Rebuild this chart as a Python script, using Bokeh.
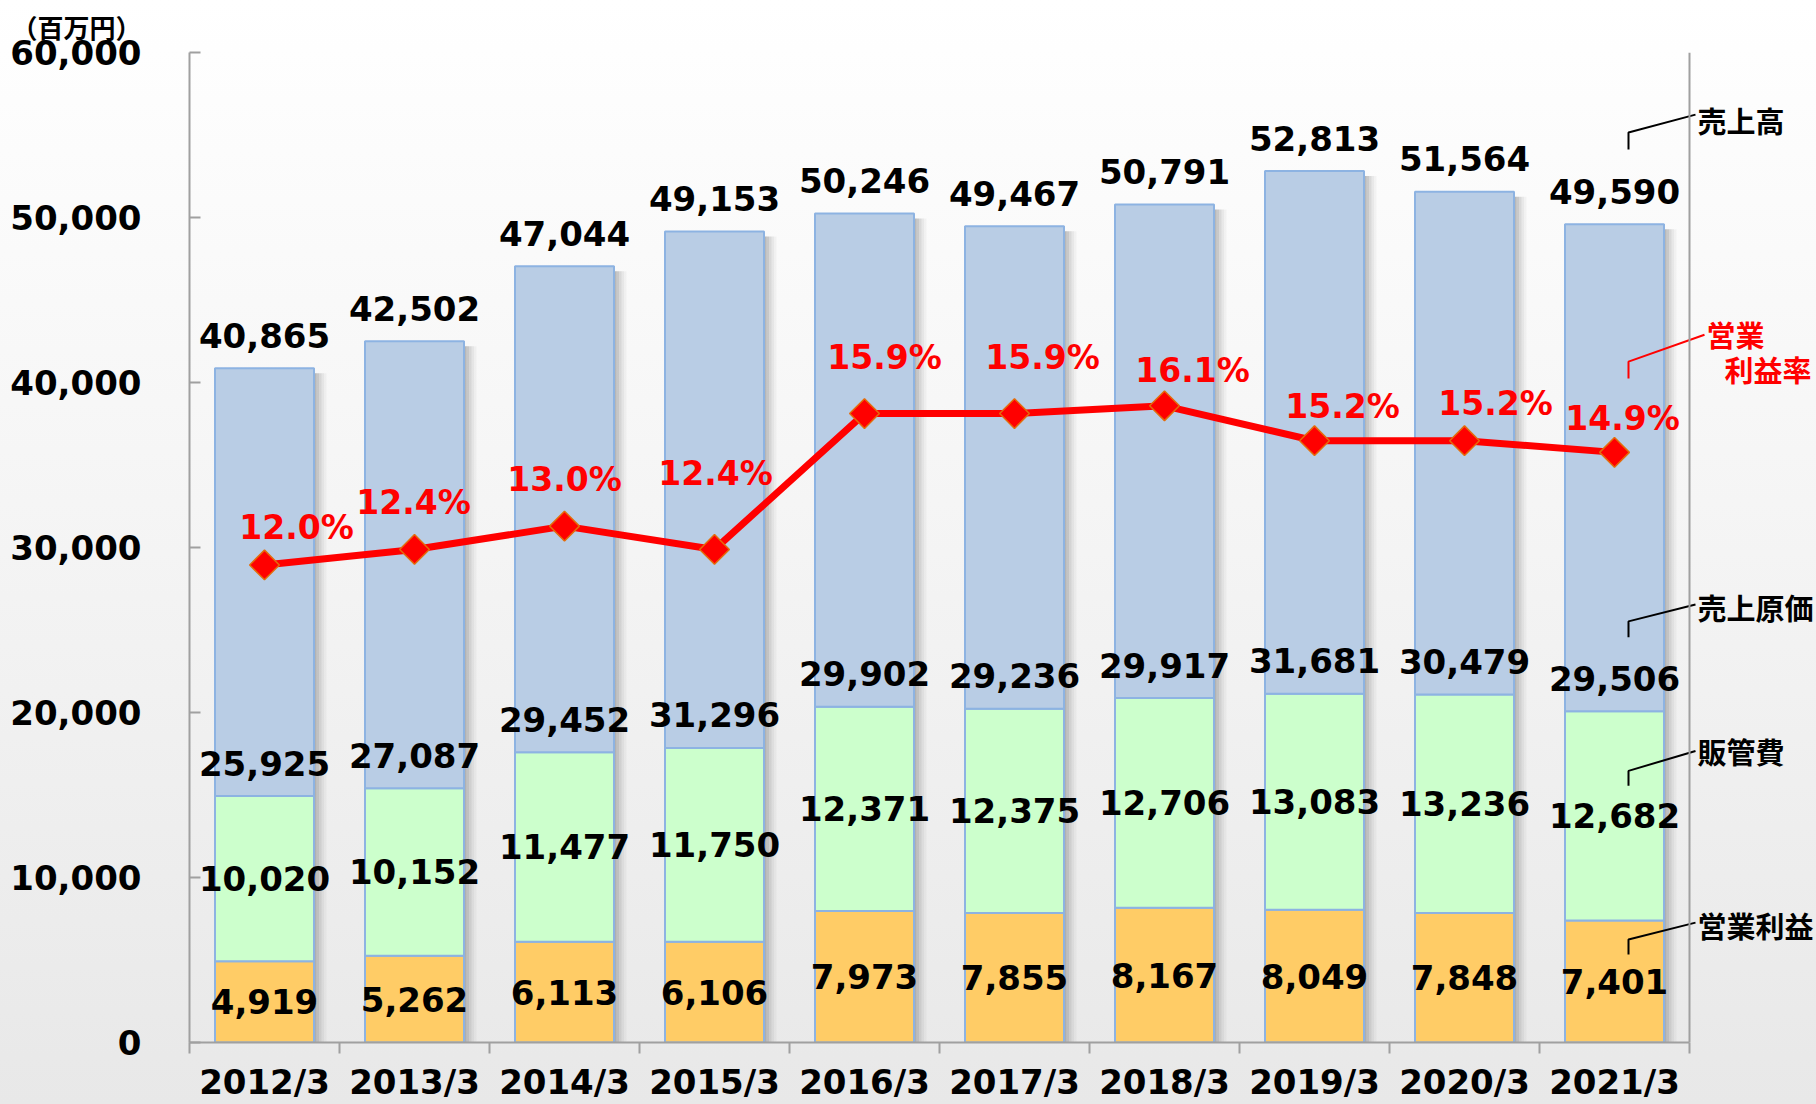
from math import pi
from bokeh.plotting import figure
from bokeh.models import ColumnDataSource, Range1d, FixedTicker, Span, NumeralTickFormatter
from bokeh.core.properties import value
from bokeh.embed import file_html
from bokeh.resources import INLINE

# ---------------- data ----------------
years = ["2012/3", "2013/3", "2014/3", "2015/3", "2016/3",
         "2017/3", "2018/3", "2019/3", "2020/3", "2021/3"]
sales = [40865, 42502, 47044, 49153, 50246, 49467, 50791, 52813, 51564, 49590]      # 売上高
cost = [25925, 27087, 29452, 31296, 29902, 29236, 29917, 31681, 30479, 29506]       # 売上原価
sga = [10020, 10152, 11477, 11750, 12371, 12375, 12706, 13083, 13236, 12682]        # 販管費
profit = [4919, 5262, 6113, 6106, 7973, 7855, 8167, 8049, 7848, 7401]               # 営業利益
margin = [12.0, 12.4, 13.0, 12.4, 15.9, 15.9, 16.1, 15.2, 15.2, 14.9]              # 営業利益率 (%)
y_ticks = [0, 10000, 20000, 30000, 40000, 50000, 60000]

# ---------------- styles ----------------
NUM = "DejaVu Sans"
CJK = "Noto Sans CJK JP"
NUM_FONT = value(NUM)
CJK_FONT = value(CJK)
C_COST, C_SGA, C_PROFIT = "#b9cde5", "#ccffcc", "#ffcc66"
C_EDGE = "#8db3e2"
AX = "#a0a0a0"
BAR_W = 0.66

n = len(years)
xc = [i + 0.5 for i in range(n)]
sga_top = [p_ + s for p_, s in zip(profit, sga)]
cost_top = [b + c for b, c in zip(sga_top, cost)]

W, H = 1816, 1104
FRAME_L, FRAME_T, FRAME_B = 189, 52, 59
x_end = (W - FRAME_L) / 150.0

p = figure(width=W, height=H, output_backend="svg", toolbar_location=None,
           x_range=Range1d(0, x_end), y_range=Range1d(0, 60000),
           min_border_left=FRAME_L, min_border_right=0,
           min_border_top=FRAME_T, min_border_bottom=FRAME_B)
p.extra_y_ranges = {"m": Range1d(-0.3, 25.2)}
p.background_fill_color = None
p.border_fill_color = None
p.outline_line_color = None
p.styles = {"background": "linear-gradient(to bottom, #ffffff 0%, #f4f4f4 50%, #e8e8e8 100%)"}
p.xgrid.visible = False
p.ygrid.visible = False

# unit caption
p.title.text = "（百万円）"
p.title.align = "left"
p.title.vertical_align = "top"
p.title.offset = -178
p.title.text_font = CJK
p.title.text_font_style = "bold"
p.title.text_font_size = "26px"
p.title.text_color = "black"
p.title.standoff = 11

# px -> data helpers
frame_h = H - FRAME_T - FRAME_B
U = 60000.0 / frame_h
M_LO, M_HI = -0.3, 25.2
UM = (M_HI - M_LO) / frame_h

# y axis
ya = p.yaxis[0]
ya.ticker = FixedTicker(ticks=y_ticks)
ya.formatter = NumeralTickFormatter(format="0,0")
ya.major_label_text_font = NUM
ya.major_label_text_font_style = "bold"
ya.major_label_text_font_size = "34px"
ya.major_label_text_color = "black"
ya.axis_line_color = AX
ya.axis_line_width = 2
ya.major_tick_line_color = AX
ya.major_tick_line_width = 2
ya.major_tick_in = 11
ya.major_tick_out = 0
ya.minor_tick_line_color = None
ya.major_label_standoff = 48

# x axis (category labels at centres, ticks at boundaries)
xa = p.xaxis[0]
xa.ticker = FixedTicker(ticks=xc, minor_ticks=list(range(n + 1)))
xa.major_label_overrides = {x: y for x, y in zip(xc, years)}
xa.major_label_text_font = NUM
xa.major_label_text_font_style = "bold"
xa.major_label_text_font_size = "34px"
xa.major_label_text_color = "black"
xa.axis_line_color = AX
xa.axis_line_width = 2
xa.major_tick_line_color = None
xa.major_tick_in = 0
xa.major_tick_out = 0
xa.minor_tick_line_color = AX
xa.minor_tick_line_width = 2
xa.minor_tick_in = 0
xa.minor_tick_out = 11
xa.major_label_standoff = 8
xa.bounds = (0, n)

# right boundary line
p.add_layout(Span(location=n, dimension="height", line_color=AX, line_width=2))

# bar shadows (soft gray gradient on the right side)
for k, a in enumerate([0.40, 0.30, 0.20, 0.11, 0.05]):
    left = [x + BAR_W / 2 + k * 2.5 / 150.0 for x in xc]
    right = [x + BAR_W / 2 + (k + 1) * 2.5 / 150.0 for x in xc]
    top = [t - 5 * U for t in cost_top]
    p.quad(left=left, right=right, bottom=[0] * n, top=top,
           fill_color="#555555", fill_alpha=a, line_color=None)

# stacked bars
p.vbar(x=xc, bottom=[0] * n, top=profit, width=BAR_W,
       fill_color=C_PROFIT, line_color=C_EDGE, line_width=2)
p.vbar(x=xc, bottom=profit, top=sga_top, width=BAR_W,
       fill_color=C_SGA, line_color=C_EDGE, line_width=2)
p.vbar(x=xc, bottom=sga_top, top=cost_top, width=BAR_W,
       fill_color=C_COST, line_color=C_EDGE, line_width=2)

# margin line + markers
p.line(x=xc, y=margin, y_range_name="m", line_color="#ff0000", line_width=7)
p.scatter(x=xc, y=margin, y_range_name="m", marker="square", angle=pi / 4, size=21,
          fill_color="#ff0000", line_color="#e46c0a", line_width=1.5)

# data labels
def num_labels(ys, vals, dy):
    p.text(x=xc, y=ys, text=[f"{v:,}" for v in vals], y_offset=dy,
           text_align="center", text_baseline="middle",
           text_font=NUM_FONT, text_font_style="bold", text_font_size="34px",
           text_color="black")

num_labels(sales, sales, -33)
num_labels(sga_top, cost, -33)
num_labels([(a + b) / 2 for a, b in zip(profit, sga_top)], sga, 0)
num_labels([v / 2 for v in profit], profit, 0)

m_dx = [32, -1, 0, 1, 20, 28, 28, 28, 31, 8]
m_dy = [-37, -47, -47, -76, -56, -56, -35, -34, -37, -34]
msrc = ColumnDataSource(dict(x=xc, y=margin, t=[f"{v:.1f}%" for v in margin], dx=m_dx, dy=m_dy))
p.text(x="x", y="y", text="t", x_offset="dx", y_offset="dy", source=msrc, y_range_name="m",
       text_align="center", text_baseline="middle",
       text_font=NUM_FONT, text_font_style="bold", text_font_size="33px",
       text_color="#ff0000")

# series-name callouts for the last category
xl = xc[-1]
x_v = xl + 14 / 150.0
x_e = xl + 81 / 150.0
x_t = xl + 83 / 150.0
callouts = [
    # name, label centre (data), offsets px (bottom, top, end, text)
    ("売上高", sales[-1] + 33 * U, (42, 59, 77, 72)),
    ("売上原価", sga_top[-1] + 33 * U, (41, 57, 74, 71)),
    ("販管費", (profit[-1] + sga_top[-1]) / 2, (30, 45, 65, 65)),
    ("営業利益", profit[-1] / 2, (27, 42, 59, 57)),
]
for name, base, (b, t, e, tx) in callouts:
    p.line(x=[x_v, x_v, x_e], y=[base + b * U, base + t * U, base + e * U],
           line_color="black", line_width=2)
    p.text(x=[x_t], y=[base + tx * U], text=[name], text_align="left", text_baseline="middle",
           text_font=CJK_FONT, text_font_style="bold", text_font_size="29px", text_color="black")

mbase = margin[-1] + 34 * UM
p.line(x=[x_v, x_v, xl + 90 / 150.0], y=[mbase + 40 * UM, mbase + 57 * UM, mbase + 84 * UM],
       y_range_name="m", line_color="#ff0000", line_width=2)
p.text(x=[xl + 92 / 150.0], y=[mbase + 85 * UM], text=["営業"], y_range_name="m",
       text_align="left", text_baseline="middle", text_font=CJK_FONT, text_font_style="bold",
       text_font_size="29px", text_color="#ff0000")
p.text(x=[xl + 110 / 150.0], y=[mbase + 50 * UM], text=["利益率"], y_range_name="m",
       text_align="left", text_baseline="middle", text_font=CJK_FONT, text_font_style="bold",
       text_font_size="29px", text_color="#ff0000")

open("out.html", "w").write(file_html(p, INLINE))
